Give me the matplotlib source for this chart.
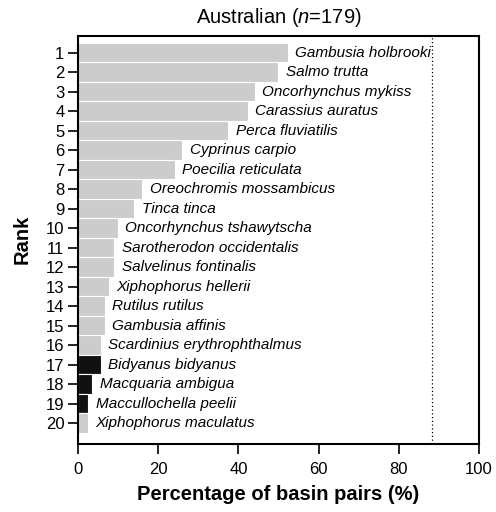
import matplotlib
matplotlib.use("Agg")
import matplotlib.pyplot as plt

plt.rcParams["font.family"] = ["Liberation Sans", "DejaVu Sans"]
plt.rcParams["mathtext.fontset"] = "custom"
plt.rcParams["mathtext.rm"] = "Liberation Sans"
plt.rcParams["mathtext.it"] = "Liberation Sans:italic"

species = [
    "Gambusia holbrooki", "Salmo trutta", "Oncorhynchus mykiss", "Carassius auratus",
    "Perca fluviatilis", "Cyprinus carpio", "Poecilia reticulata", "Oreochromis mossambicus",
    "Tinca tinca", "Oncorhynchus tshawytscha", "Sarotherodon occidentalis",
    "Salvelinus fontinalis", "Xiphophorus hellerii", "Rutilus rutilus", "Gambusia affinis",
    "Scardinius erythrophthalmus", "Bidyanus bidyanus", "Macquaria ambigua",
    "Maccullochella peelii", "Xiphophorus maculatus",
]
percent = [52.3, 49.9, 44.1, 42.3, 37.4, 26.0, 24.1, 16.0, 14.0, 9.8,
           8.9, 8.9, 7.6, 6.6, 6.6, 5.6, 5.6, 3.4, 2.4, 2.4]
native = [False] * 16 + [True, True, True, False]
ranks = list(range(1, 21))
dotted_x = 88.3

fig = plt.figure(figsize=(4.96, 5.12), dpi=100)
ax = fig.add_axes([0.158, 0.133, 0.807, 0.797])

colors = ["#111111" if n else "#cccccc" for n in native]
ax.barh(ranks, percent, height=1.0, color=colors, edgecolor="white", linewidth=0.8)
for r, p, s in zip(ranks, percent, species):
    ax.text(p + 1.9, r, s, va="center", ha="left", style="italic", fontsize=11)

ax.axvline(dotted_x, color="black", linestyle=(0, (1, 2)), linewidth=0.9)

ax.set_xlim(0, 100)
ax.set_ylim(21.06, 0.14)
ax.set_yticks(ranks)
ax.set_xticks([0, 20, 40, 60, 80, 100])
ax.tick_params(axis="both", direction="out", length=7, width=1.2, labelsize=12)
ax.tick_params(axis="y", pad=3)
ax.tick_params(axis="x", pad=6)
for sp in ax.spines.values():
    sp.set_linewidth(1.5)
ax.set_title("Australian ($\\it{n}$=179)", fontsize=14.5, pad=9)
ax.set_xlabel("Percentage of basin pairs (%)", fontsize=14.5, fontweight="bold", labelpad=6)
ax.set_ylabel("Rank", fontsize=14.5, fontweight="bold", labelpad=10)

fig.savefig("out.png", dpi=100)
